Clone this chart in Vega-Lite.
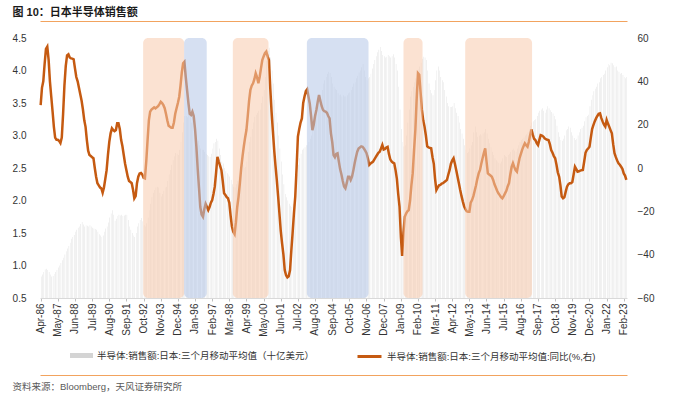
{
"$schema": "https://vega.github.io/schema/vega-lite/v6.json",
"width": 587,
"height": 260,
"autosize": {"type": "none"},
"padding": {"left": 40, "top": 38, "right": 48, "bottom": 97},
"config": {"font": "Liberation Sans, Noto Sans CJK SC, sans-serif", "view": {"stroke": null}, "axis": {"grid": false}},
"datasets": {
"zones": [
{"s":"1992-10-06","e":"1995-05-10","k":"A"},
{"s":"1995-05-10","e":"1996-10-12","k":"B"},
{"s":"1998-06-06","e":"2000-09-06","k":"A"},
{"s":"2003-02-09","e":"2007-01-01","k":"B"},
{"s":"2009-03-18","e":"2010-06-01","k":"A"},
{"s":"2013-02-09","e":"2017-05-01","k":"A"}
],
"main": [
{"d":"1986-04","v":0.83,"r":29},{"d":"1986-05","v":0.86,"r":37},{"d":"1986-06","v":0.90,"r":40},{"d":"1986-07","v":0.94,"r":48},{"d":"1986-08","v":0.95,"r":55},{"d":"1986-09","v":0.93,"r":56},{"d":"1986-10","v":0.90,"r":50},{"d":"1986-11","v":0.86,"r":40},{"d":"1986-12","v":0.83,"r":33},
{"d":"1987-01","v":0.84,"r":26},{"d":"1987-02","v":0.87,"r":19},{"d":"1987-03","v":0.90,"r":14},{"d":"1987-04","v":0.93,"r":13},{"d":"1987-05","v":0.97,"r":13},{"d":"1987-06","v":1.00,"r":12.5},{"d":"1987-07","v":1.04,"r":11.5},{"d":"1987-08","v":1.08,"r":14},{"d":"1987-09","v":1.12,"r":25},{"d":"1987-10","v":1.17,"r":38},{"d":"1987-11","v":1.22,"r":47},{"d":"1987-12","v":1.26,"r":52},
{"d":"1988-01","v":1.30,"r":52.5},{"d":"1988-02","v":1.35,"r":51},{"d":"1988-03","v":1.41,"r":50.6},{"d":"1988-04","v":1.44,"r":50.5},{"d":"1988-05","v":1.47,"r":50.2},{"d":"1988-06","v":1.52,"r":46},{"d":"1988-07","v":1.55,"r":42},{"d":"1988-08","v":1.58,"r":40},{"d":"1988-09","v":1.60,"r":37},{"d":"1988-10","v":1.64,"r":34},{"d":"1988-11","v":1.67,"r":31},{"d":"1988-12","v":1.63,"r":27},
{"d":"1989-01","v":1.60,"r":22},{"d":"1989-02","v":1.62,"r":19},{"d":"1989-03","v":1.61,"r":13},{"d":"1989-04","v":1.60,"r":8},{"d":"1989-05","v":1.62,"r":6},{"d":"1989-06","v":1.60,"r":5.5},{"d":"1989-07","v":1.58,"r":5},{"d":"1989-08","v":1.57,"r":4.5},{"d":"1989-09","v":1.56,"r":0},{"d":"1989-10","v":1.55,"r":-4},{"d":"1989-11","v":1.52,"r":-7},{"d":"1989-12","v":1.48,"r":-8},
{"d":"1990-01","v":1.46,"r":-9},{"d":"1990-02","v":1.44,"r":-9.4},{"d":"1990-03","v":1.46,"r":-11.4},{"d":"1990-04","v":1.52,"r":-9},{"d":"1990-05","v":1.57,"r":-5},{"d":"1990-06","v":1.60,"r":-1},{"d":"1990-07","v":1.66,"r":6},{"d":"1990-08","v":1.74,"r":12},{"d":"1990-09","v":1.80,"r":16},{"d":"1990-10","v":1.85,"r":18.3},{"d":"1990-11","v":1.78,"r":17.5},{"d":"1990-12","v":1.69,"r":17},
{"d":"1991-01","v":1.72,"r":17.5},{"d":"1991-02","v":1.76,"r":20.6},{"d":"1991-03","v":1.78,"r":20.6},{"d":"1991-04","v":1.77,"r":18},{"d":"1991-05","v":1.78,"r":13},{"d":"1991-06","v":1.76,"r":10},{"d":"1991-07","v":1.77,"r":6},{"d":"1991-08","v":1.78,"r":2},{"d":"1991-09","v":1.78,"r":-1},{"d":"1991-10","v":1.70,"r":-4},{"d":"1991-11","v":1.60,"r":-6},{"d":"1991-12","v":1.55,"r":-6.5},
{"d":"1992-01","v":1.50,"r":-7},{"d":"1992-02","v":1.46,"r":-10},{"d":"1992-03","v":1.44,"r":-14},{"d":"1992-04","v":1.50,"r":-13},{"d":"1992-05","v":1.60,"r":-7},{"d":"1992-06","v":1.65,"r":-4},{"d":"1992-07","v":1.70,"r":-2.5},{"d":"1992-08","v":1.73,"r":-2.3},{"d":"1992-09","v":1.68,"r":-3},{"d":"1992-10","v":1.62,"r":-4.5},{"d":"1992-11","v":1.60,"r":-4.8},{"d":"1992-12","v":1.65,"r":3},
{"d":"1993-01","v":1.74,"r":13},{"d":"1993-02","v":1.85,"r":22},{"d":"1993-03","v":1.95,"r":26},{"d":"1993-04","v":2.05,"r":27},{"d":"1993-05","v":2.12,"r":27.5},{"d":"1993-06","v":2.16,"r":28},{"d":"1993-07","v":2.20,"r":27.5},{"d":"1993-08","v":2.21,"r":28},{"d":"1993-09","v":2.20,"r":28.5},{"d":"1993-10","v":2.12,"r":29.5},{"d":"1993-11","v":2.06,"r":30.6},{"d":"1993-12","v":2.10,"r":30},
{"d":"1994-01","v":2.15,"r":29},{"d":"1994-02","v":2.20,"r":27.6},{"d":"1994-03","v":2.21,"r":25},{"d":"1994-04","v":2.30,"r":22},{"d":"1994-05","v":2.40,"r":19.5},{"d":"1994-06","v":2.47,"r":19},{"d":"1994-07","v":2.55,"r":18.6},{"d":"1994-08","v":2.62,"r":18.6},{"d":"1994-09","v":2.68,"r":21},{"d":"1994-10","v":2.73,"r":25},{"d":"1994-11","v":2.72,"r":27.6},{"d":"1994-12","v":2.70,"r":30},
{"d":"1995-01","v":2.78,"r":32.9},{"d":"1995-02","v":2.90,"r":38},{"d":"1995-03","v":3.05,"r":44},{"d":"1995-04","v":3.20,"r":48.3},{"d":"1995-05","v":3.30,"r":49},{"d":"1995-06","v":3.30,"r":42},{"d":"1995-07","v":3.28,"r":36},{"d":"1995-08","v":3.35,"r":30},{"d":"1995-09","v":3.30,"r":25},{"d":"1995-10","v":3.20,"r":24.5},{"d":"1995-11","v":3.30,"r":26},{"d":"1995-12","v":3.20,"r":24},
{"d":"1996-01","v":3.10,"r":18},{"d":"1996-02","v":3.00,"r":10},{"d":"1996-03","v":2.92,"r":0},{"d":"1996-04","v":2.85,"r":-9},{"d":"1996-05","v":2.80,"r":-18},{"d":"1996-06","v":2.78,"r":-21.5},{"d":"1996-07","v":2.78,"r":-22.5},{"d":"1996-08","v":2.75,"r":-19},{"d":"1996-09","v":2.72,"r":-16.6},{"d":"1996-10","v":2.70,"r":-18},{"d":"1996-11","v":2.68,"r":-19.4},{"d":"1996-12","v":2.67,"r":-18},
{"d":"1997-01","v":2.72,"r":-16},{"d":"1997-02","v":2.80,"r":-14.8},{"d":"1997-03","v":2.88,"r":-12},{"d":"1997-04","v":2.90,"r":-8.6},{"d":"1997-05","v":2.95,"r":-2},{"d":"1997-06","v":2.92,"r":5.2},{"d":"1997-07","v":2.80,"r":3},{"d":"1997-08","v":2.70,"r":1},{"d":"1997-09","v":2.60,"r":-1},{"d":"1997-10","v":2.57,"r":-6},{"d":"1997-11","v":2.50,"r":-11.7},{"d":"1997-12","v":2.45,"r":-12.5},
{"d":"1998-01","v":2.42,"r":-13.5},{"d":"1998-02","v":2.40,"r":-14},{"d":"1998-03","v":2.37,"r":-16},{"d":"1998-04","v":2.32,"r":-22},{"d":"1998-05","v":2.25,"r":-27},{"d":"1998-06","v":2.21,"r":-29.4},{"d":"1998-07","v":2.20,"r":-30.5},{"d":"1998-08","v":2.25,"r":-25},{"d":"1998-09","v":2.30,"r":-18},{"d":"1998-10","v":2.37,"r":-13.2},{"d":"1998-11","v":2.45,"r":-7},{"d":"1998-12","v":2.50,"r":0},
{"d":"1999-01","v":2.55,"r":5.5},{"d":"1999-02","v":2.50,"r":10},{"d":"1999-03","v":2.52,"r":14},{"d":"1999-04","v":2.60,"r":17.5},{"d":"1999-05","v":2.75,"r":24},{"d":"1999-06","v":2.90,"r":31},{"d":"1999-07","v":2.98,"r":36},{"d":"1999-08","v":3.10,"r":38},{"d":"1999-09","v":3.20,"r":39.1},{"d":"1999-10","v":3.29,"r":41},{"d":"1999-11","v":3.32,"r":43.7},{"d":"1999-12","v":3.35,"r":42},
{"d":"2000-01","v":3.38,"r":39.1},{"d":"2000-02","v":3.40,"r":42},{"d":"2000-03","v":3.50,"r":46},{"d":"2000-04","v":3.60,"r":49.8},{"d":"2000-05","v":3.70,"r":51.5},{"d":"2000-06","v":3.90,"r":53},{"d":"2000-07","v":4.15,"r":53.7},{"d":"2000-08","v":4.30,"r":51.5},{"d":"2000-09","v":4.35,"r":49.8},{"d":"2000-10","v":4.20,"r":37},{"d":"2000-11","v":4.00,"r":26},{"d":"2000-12","v":3.80,"r":17},
{"d":"2001-01","v":3.55,"r":8},{"d":"2001-02","v":3.35,"r":1},{"d":"2001-03","v":3.20,"r":-5.5},{"d":"2001-04","v":3.00,"r":-13},{"d":"2001-05","v":2.80,"r":-21},{"d":"2001-06","v":2.60,"r":-29},{"d":"2001-07","v":2.40,"r":-34.8},{"d":"2001-08","v":2.25,"r":-40},{"d":"2001-09","v":2.10,"r":-47.1},{"d":"2001-10","v":2.05,"r":-49.5},{"d":"2001-11","v":2.00,"r":-50.5},{"d":"2001-12","v":1.95,"r":-50},
{"d":"2002-01","v":1.92,"r":-47.1},{"d":"2002-02","v":1.90,"r":-38},{"d":"2002-03","v":1.95,"r":-30},{"d":"2002-04","v":2.05,"r":-21},{"d":"2002-05","v":2.20,"r":-13.2},{"d":"2002-06","v":2.40,"r":0},{"d":"2002-07","v":2.55,"r":14.5},{"d":"2002-08","v":2.65,"r":18},{"d":"2002-09","v":2.72,"r":21},{"d":"2002-10","v":2.78,"r":22.9},{"d":"2002-11","v":2.80,"r":30},{"d":"2002-12","v":2.82,"r":33},
{"d":"2003-01","v":2.85,"r":35.5},{"d":"2003-02","v":2.85,"r":36.3},{"d":"2003-03","v":2.90,"r":33},{"d":"2003-04","v":2.95,"r":29.8},{"d":"2003-05","v":3.00,"r":24},{"d":"2003-06","v":3.10,"r":17.5},{"d":"2003-07","v":3.20,"r":20},{"d":"2003-08","v":3.30,"r":24},{"d":"2003-09","v":3.40,"r":26.8},{"d":"2003-10","v":3.50,"r":30.5},{"d":"2003-11","v":3.60,"r":33.7},{"d":"2003-12","v":3.62,"r":31},
{"d":"2004-01","v":3.70,"r":28.5},{"d":"2004-02","v":3.80,"r":26.8},{"d":"2004-03","v":3.85,"r":26.2},{"d":"2004-04","v":3.90,"r":26},{"d":"2004-05","v":3.95,"r":25.5},{"d":"2004-06","v":3.98,"r":24},{"d":"2004-07","v":3.96,"r":22.9},{"d":"2004-08","v":3.90,"r":16},{"d":"2004-09","v":3.80,"r":12},{"d":"2004-10","v":3.75,"r":6},{"d":"2004-11","v":3.72,"r":5},{"d":"2004-12","v":3.70,"r":6.5},
{"d":"2005-01","v":3.65,"r":6.8},{"d":"2005-02","v":3.62,"r":3},{"d":"2005-03","v":3.63,"r":-0.5},{"d":"2005-04","v":3.60,"r":-3},{"d":"2005-05","v":3.62,"r":-6},{"d":"2005-06","v":3.60,"r":-8.5},{"d":"2005-07","v":3.60,"r":-9.4},{"d":"2005-08","v":3.62,"r":-7},{"d":"2005-09","v":3.65,"r":-4},{"d":"2005-10","v":3.66,"r":-4},{"d":"2005-11","v":3.70,"r":-5.5},{"d":"2005-12","v":3.75,"r":-4},
{"d":"2006-01","v":3.80,"r":-1},{"d":"2006-02","v":3.82,"r":2.2},{"d":"2006-03","v":3.88,"r":5},{"d":"2006-04","v":3.92,"r":7.5},{"d":"2006-05","v":3.97,"r":9},{"d":"2006-06","v":4.00,"r":9.5},{"d":"2006-07","v":4.05,"r":10},{"d":"2006-08","v":4.10,"r":9.8},{"d":"2006-09","v":4.00,"r":9},{"d":"2006-10","v":3.90,"r":8},{"d":"2006-11","v":3.85,"r":6.8},{"d":"2006-12","v":3.88,"r":4.5},
{"d":"2007-01","v":3.90,"r":1.4},{"d":"2007-02","v":3.95,"r":2},{"d":"2007-03","v":4.03,"r":2.5},{"d":"2007-04","v":4.10,"r":2.9},{"d":"2007-05","v":4.16,"r":4},{"d":"2007-06","v":4.22,"r":5},{"d":"2007-07","v":4.28,"r":6},{"d":"2007-08","v":4.32,"r":7},{"d":"2007-09","v":4.36,"r":7.5},{"d":"2007-10","v":4.30,"r":9},{"d":"2007-11","v":4.24,"r":10.6},{"d":"2007-12","v":4.22,"r":8.5},
{"d":"2008-01","v":4.20,"r":8.8},{"d":"2008-02","v":4.21,"r":9.5},{"d":"2008-03","v":4.24,"r":9.8},{"d":"2008-04","v":4.22,"r":6.5},{"d":"2008-05","v":4.20,"r":4},{"d":"2008-06","v":4.22,"r":3},{"d":"2008-07","v":4.25,"r":2.5},{"d":"2008-08","v":4.20,"r":2.2},{"d":"2008-09","v":4.10,"r":-1},{"d":"2008-10","v":4.00,"r":-5},{"d":"2008-11","v":3.75,"r":-12},{"d":"2008-12","v":3.40,"r":-17.8},
{"d":"2009-01","v":3.10,"r":-31.7},{"d":"2009-02","v":2.90,"r":-40.6},{"d":"2009-03","v":2.83,"r":-30},{"d":"2009-04","v":2.85,"r":-22.5},{"d":"2009-05","v":3.00,"r":-21},{"d":"2009-06","v":3.20,"r":-20},{"d":"2009-07","v":3.40,"r":-19.4},{"d":"2009-08","v":3.60,"r":-15},{"d":"2009-09","v":3.68,"r":-8},{"d":"2009-10","v":3.75,"r":-2.5},{"d":"2009-11","v":3.82,"r":8},{"d":"2009-12","v":3.88,"r":17.5},
{"d":"2010-01","v":3.95,"r":32},{"d":"2010-02","v":4.02,"r":43.7},{"d":"2010-03","v":4.06,"r":43},{"d":"2010-04","v":4.12,"r":35},{"d":"2010-05","v":4.18,"r":26.8},{"d":"2010-06","v":4.21,"r":22},{"d":"2010-07","v":4.20,"r":19.1},{"d":"2010-08","v":4.16,"r":15},{"d":"2010-09","v":4.00,"r":10},{"d":"2010-10","v":3.80,"r":9.5},{"d":"2010-11","v":3.70,"r":9.3},{"d":"2010-12","v":3.65,"r":9.1},
{"d":"2011-01","v":3.62,"r":5},{"d":"2011-02","v":3.70,"r":2},{"d":"2011-03","v":3.85,"r":-5},{"d":"2011-04","v":4.00,"r":-10.2},{"d":"2011-05","v":4.06,"r":-9},{"d":"2011-06","v":4.00,"r":-8},{"d":"2011-07","v":3.90,"r":-7.8},{"d":"2011-08","v":3.85,"r":-7.2},{"d":"2011-09","v":3.82,"r":-7},{"d":"2011-10","v":3.70,"r":-6.5},{"d":"2011-11","v":3.60,"r":-6},{"d":"2011-12","v":3.50,"r":-5.5},
{"d":"2012-01","v":3.45,"r":-3},{"d":"2012-02","v":3.44,"r":-0.9},{"d":"2012-03","v":3.44,"r":2},{"d":"2012-04","v":3.45,"r":3.5},{"d":"2012-05","v":3.50,"r":4.5},{"d":"2012-06","v":3.42,"r":2},{"d":"2012-07","v":3.35,"r":-0.9},{"d":"2012-08","v":3.30,"r":-4},{"d":"2012-09","v":3.20,"r":-7},{"d":"2012-10","v":3.10,"r":-10.2},{"d":"2012-11","v":3.03,"r":-13},{"d":"2012-12","v":2.95,"r":-15.5},
{"d":"2013-01","v":2.85,"r":-17.8},{"d":"2013-02","v":2.78,"r":-19},{"d":"2013-03","v":2.73,"r":-20},{"d":"2013-04","v":2.75,"r":-20.2},{"d":"2013-05","v":2.80,"r":-20.2},{"d":"2013-06","v":2.85,"r":-16},{"d":"2013-07","v":2.90,"r":-14.8},{"d":"2013-08","v":3.05,"r":-13},{"d":"2013-09","v":3.14,"r":-10.5},{"d":"2013-10","v":3.05,"r":-8},{"d":"2013-11","v":2.98,"r":-5},{"d":"2013-12","v":3.00,"r":-2.5},
{"d":"2014-01","v":3.02,"r":-0.9},{"d":"2014-02","v":3.00,"r":2},{"d":"2014-03","v":3.03,"r":4.5},{"d":"2014-04","v":3.05,"r":7},{"d":"2014-05","v":3.10,"r":9.1},{"d":"2014-06","v":3.03,"r":3},{"d":"2014-07","v":2.95,"r":-2.5},{"d":"2014-08","v":2.88,"r":-3},{"d":"2014-09","v":2.82,"r":-3.5},{"d":"2014-10","v":2.75,"r":-4},{"d":"2014-11","v":2.70,"r":-5.5},{"d":"2014-12","v":2.65,"r":-7.5},
{"d":"2015-01","v":2.62,"r":-9},{"d":"2015-02","v":2.60,"r":-10.5},{"d":"2015-03","v":2.58,"r":-11.7},{"d":"2015-04","v":2.57,"r":-12.5},{"d":"2015-05","v":2.60,"r":-13.5},{"d":"2015-06","v":2.65,"r":-14},{"d":"2015-07","v":2.70,"r":-13},{"d":"2015-08","v":2.68,"r":-11.7},{"d":"2015-09","v":2.67,"r":-10.5},{"d":"2015-10","v":2.70,"r":-8.5},{"d":"2015-11","v":2.72,"r":-7},{"d":"2015-12","v":2.75,"r":-3},
{"d":"2016-01","v":2.78,"r":0.5},{"d":"2016-02","v":2.80,"r":2.2},{"d":"2016-03","v":2.77,"r":0.5},{"d":"2016-04","v":2.75,"r":-1},{"d":"2016-05","v":2.80,"r":-1.7},{"d":"2016-06","v":2.85,"r":1.5},{"d":"2016-07","v":2.90,"r":4.5},{"d":"2016-08","v":2.93,"r":6.5},{"d":"2016-09","v":2.95,"r":8.5},{"d":"2016-10","v":2.97,"r":10},{"d":"2016-11","v":3.00,"r":11.4},{"d":"2016-12","v":3.02,"r":10.5},
{"d":"2017-01","v":3.05,"r":9.8},{"d":"2017-02","v":3.10,"r":12},{"d":"2017-03","v":3.15,"r":15},{"d":"2017-04","v":3.20,"r":17.8},{"d":"2017-05","v":3.22,"r":15.5},{"d":"2017-06","v":3.24,"r":13.5},{"d":"2017-07","v":3.25,"r":12.9},{"d":"2017-08","v":3.30,"r":11.5},{"d":"2017-09","v":3.35,"r":10.6},{"d":"2017-10","v":3.38,"r":13},{"d":"2017-11","v":3.40,"r":15.2},{"d":"2017-12","v":3.42,"r":15},
{"d":"2018-01","v":3.38,"r":14.5},{"d":"2018-02","v":3.35,"r":13.7},{"d":"2018-03","v":3.40,"r":13.3},{"d":"2018-04","v":3.45,"r":13},{"d":"2018-05","v":3.42,"r":12.9},{"d":"2018-06","v":3.39,"r":11},{"d":"2018-07","v":3.36,"r":8.3},{"d":"2018-08","v":3.34,"r":7},{"d":"2018-09","v":3.30,"r":5.5},{"d":"2018-10","v":3.25,"r":4.5},{"d":"2018-11","v":3.15,"r":1.5},{"d":"2018-12","v":3.05,"r":-2},
{"d":"2019-01","v":2.98,"r":-4},{"d":"2019-02","v":2.93,"r":-8},{"d":"2019-03","v":2.92,"r":-13.2},{"d":"2019-04","v":2.95,"r":-14},{"d":"2019-05","v":3.00,"r":-13.5},{"d":"2019-06","v":3.08,"r":-11},{"d":"2019-07","v":3.10,"r":-8.6},{"d":"2019-08","v":3.14,"r":-7.5},{"d":"2019-09","v":3.12,"r":-7},{"d":"2019-10","v":3.05,"r":-7},{"d":"2019-11","v":3.00,"r":-6.5},{"d":"2019-12","v":2.96,"r":-3},
{"d":"2020-01","v":2.93,"r":0.6},{"d":"2020-02","v":2.95,"r":-0.5},{"d":"2020-03","v":3.00,"r":-1.7},{"d":"2020-04","v":3.05,"r":-1.5},{"d":"2020-05","v":3.10,"r":-1.2},{"d":"2020-06","v":3.12,"r":-1},{"d":"2020-07","v":3.15,"r":-0.9},{"d":"2020-08","v":3.22,"r":3},{"d":"2020-09","v":3.28,"r":7},{"d":"2020-10","v":3.30,"r":8.3},{"d":"2020-11","v":3.32,"r":9},{"d":"2020-12","v":3.45,"r":9.8},
{"d":"2021-01","v":3.55,"r":14},{"d":"2021-02","v":3.62,"r":18},{"d":"2021-03","v":3.68,"r":19.8},{"d":"2021-04","v":3.72,"r":21.5},{"d":"2021-05","v":3.75,"r":22.9},{"d":"2021-06","v":3.80,"r":24},{"d":"2021-07","v":3.82,"r":25},{"d":"2021-08","v":3.88,"r":25.2},{"d":"2021-09","v":3.90,"r":23},{"d":"2021-10","v":3.93,"r":21.4},{"d":"2021-11","v":3.95,"r":20},{"d":"2021-12","v":4.00,"r":19.1},
{"d":"2022-01","v":4.05,"r":22.2},{"d":"2022-02","v":4.10,"r":20.5},{"d":"2022-03","v":4.08,"r":19.1},{"d":"2022-04","v":4.12,"r":17.5},{"d":"2022-05","v":4.11,"r":16},{"d":"2022-06","v":4.08,"r":11},{"d":"2022-07","v":4.05,"r":6.8},{"d":"2022-08","v":4.06,"r":5},{"d":"2022-09","v":4.00,"r":3.5},{"d":"2022-10","v":3.98,"r":2.2},{"d":"2022-11","v":3.95,"r":1.5},{"d":"2022-12","v":3.96,"r":0.6},
{"d":"2023-01","v":3.93,"r":-0.5},{"d":"2023-02","v":3.90,"r":-2.5},{"d":"2023-03","v":3.88,"r":-3.5},{"d":"2023-04","v":3.90,"r":-5.5}
]
},
"layer": [
{
"data": {"name": "main"},
"mark": {"type": "bar"},
"encoding": {
"x": {"field": "d", "timeUnit": "utcyearmonth", "type": "temporal",
"scale": {"type": "utc", "nice": false, "padding": 0},
"axis": {"orient": "bottom", "title": null, "format": "%b-%y", "labelAngle": -90, "labelFontSize": 10, "labelColor": "#333333", "tickSize": 3, "tickColor": "#bfbfbf", "domainColor": "#d9d9d9", "labelPadding": 2, "labelFlush": false, "labelOverlap": false, "grid": false,
"values": [
{"year":1986,"month":4,"date":15,"utc":true},{"year":1987,"month":5,"date":15,"utc":true},{"year":1988,"month":6,"date":15,"utc":true},{"year":1989,"month":7,"date":15,"utc":true},{"year":1990,"month":8,"date":15,"utc":true},{"year":1991,"month":9,"date":15,"utc":true},{"year":1992,"month":10,"date":15,"utc":true},{"year":1993,"month":11,"date":15,"utc":true},{"year":1994,"month":12,"date":15,"utc":true},{"year":1996,"month":1,"date":15,"utc":true},{"year":1997,"month":2,"date":15,"utc":true},{"year":1998,"month":3,"date":15,"utc":true},{"year":1999,"month":4,"date":15,"utc":true},{"year":2000,"month":5,"date":15,"utc":true},{"year":2001,"month":6,"date":15,"utc":true},{"year":2002,"month":7,"date":15,"utc":true},{"year":2003,"month":8,"date":15,"utc":true},{"year":2004,"month":9,"date":15,"utc":true},{"year":2005,"month":10,"date":15,"utc":true},{"year":2006,"month":11,"date":15,"utc":true},{"year":2007,"month":12,"date":15,"utc":true},{"year":2009,"month":1,"date":15,"utc":true},{"year":2010,"month":2,"date":15,"utc":true},{"year":2011,"month":3,"date":15,"utc":true},{"year":2012,"month":4,"date":15,"utc":true},{"year":2013,"month":5,"date":15,"utc":true},{"year":2014,"month":6,"date":15,"utc":true},{"year":2015,"month":7,"date":15,"utc":true},{"year":2016,"month":8,"date":15,"utc":true},{"year":2017,"month":9,"date":15,"utc":true},{"year":2018,"month":10,"date":15,"utc":true},{"year":2019,"month":11,"date":15,"utc":true},{"year":2020,"month":12,"date":15,"utc":true},{"year":2022,"month":1,"date":15,"utc":true},{"year":2023,"month":2,"date":15,"utc":true}
]}},
"y": {"field": "v", "type": "quantitative", "scale": {"domain": [0.5, 4.5], "nice": false, "zero": false},
"axis": {"orient": "left", "title": null, "values": [0.5,1,1.5,2,2.5,3,3.5,4,4.5], "format": ".1f", "domain": false, "ticks": false, "tickSize": 0, "labelPadding": 14, "grid": false, "labelFontSize": 10, "labelColor": "#333333"}},
"y2": {"datum": 0.5},
"fill": {"datum": "半导体:销售额:日本:三个月移动平均值（十亿美元）", "type": "nominal", "scale": {"range": ["#d4d4d4"]},
"legend": {"orient": "none", "legendX": 30, "legendY": 306, "title": null, "symbolType": "M-1,-0.22H1V0.22H-1Z", "symbolSize": 529, "symbolStrokeWidth": 0, "labelFontSize": 9.5, "labelColor": "#333333", "labelLimit": 400, "labelOffset": 4, "padding": 0}}
}
},
{
"data": {"name": "main"},
"mark": {"type": "line", "strokeWidth": 2.5},
"encoding": {
"x": {"field": "d", "timeUnit": "utcyearmonth", "type": "temporal", "bandPosition": 0.5,
"axis": {"orient": "bottom", "offset": 77, "title": "资料来源：Bloomberg，天风证券研究所", "labels": false, "ticks": false, "domainColor": "#f2a35e", "domainWidth": 1, "grid": false, "titleX": -28, "titleY": 14, "titleAlign": "left", "titleAnchor": "start", "titleBaseline": "alphabetic", "titleFontSize": 9.5, "titleFontWeight": "normal", "titleColor": "#595959"}},
"y": {"field": "r", "type": "quantitative", "scale": {"domain": [-60, 60], "nice": false},
"axis": {"orient": "right", "title": null, "values": [-60,-40,-20,0,20,40,60], "domain": false, "ticks": false, "tickSize": 0, "labelPadding": 10, "grid": false, "labelFontSize": 10, "labelColor": "#333333"}},
"stroke": {"datum": "半导体:销售额:日本:三个月移动平均值:同比(%,右)", "type": "nominal", "scale": {"range": ["#c55a11"]},
"legend": {"orient": "none", "legendX": 316, "legendY": 305, "title": null, "symbolType": "stroke", "symbolSize": 576, "symbolStrokeWidth": 3, "labelFontSize": 9.5, "labelColor": "#333333", "labelLimit": 400, "labelOffset": 4, "padding": 0}}
}
},
{
"data": {"name": "zones"},
"mark": {"type": "rect", "opacity": 0.55, "cornerRadius": 5},
"encoding": {
"x": {"field": "s", "type": "temporal",
"axis": {"orient": "top", "offset": 17, "title": "图 10：日本半导体销售额", "labels": false, "ticks": false, "domainColor": "#f2a35e", "domainWidth": 1, "grid": false, "titleX": -28, "titleY": -6, "titleAlign": "left", "titleAnchor": "start", "titleBaseline": "alphabetic", "titleFontSize": 11, "titleFontWeight": "bold", "titleColor": "#1a1a1a"}},
"x2": {"field": "e"},
"color": {"field": "k", "type": "nominal", "scale": {"domain": ["A", "B"], "range": ["#f8cbad", "#b4c7e7"]}, "legend": null}
}
}
],
"resolve": {"scale": {"y": "independent"}, "axis": {"x": "independent", "y": "independent"}}
}
